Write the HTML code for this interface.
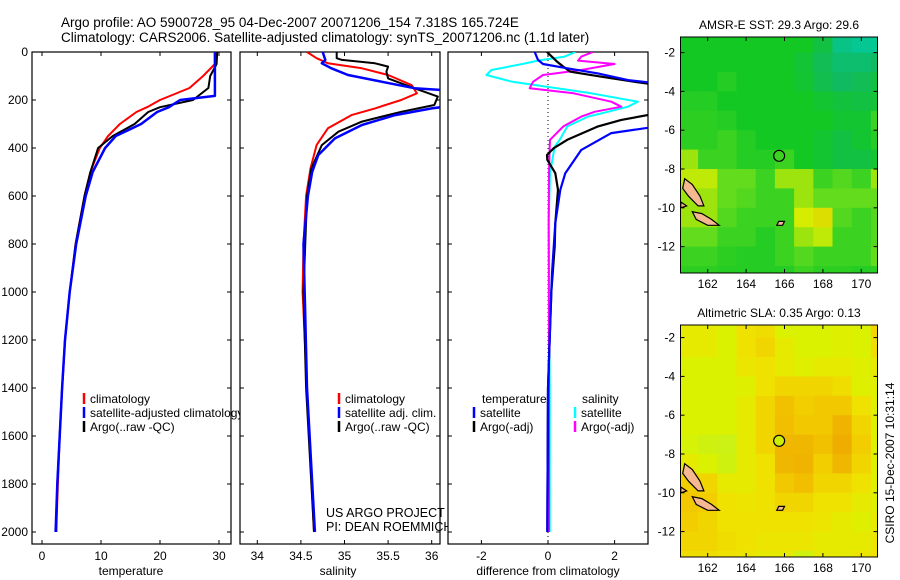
<!DOCTYPE html>
<html><head><meta charset="utf-8">
<style>
html,body{margin:0;padding:0;background:#fff;}
svg{display:block;font-family:"Liberation Sans",Arial,sans-serif;}
</style></head>
<body>
<svg id="chart" width="900" height="580" viewBox="0 0 900 580">
<defs>
<clipPath id="c1"><rect x="32" y="52" width="199" height="492"/></clipPath>
<clipPath id="c2"><rect x="240" y="52" width="200" height="492"/></clipPath>
<clipPath id="c3"><rect x="448" y="52" width="200" height="492"/></clipPath>
<clipPath id="m1"><rect x="681" y="37" width="197" height="236"/></clipPath>
<clipPath id="m2"><rect x="680" y="325" width="197" height="232"/></clipPath>
</defs>
<g id="root"></g>
</svg>
<script>
// ---------- data ----------
const tempDepth = [0,50,100,150,200,230,250,300,350,400,500,600,800,1000,1200,1400,1600,1800,2000];
const tempClim  = [29.6,29.3,27.3,25,20,17.8,16,13.2,11.2,9.8,8.2,7.2,5.7,4.7,3.9,3.4,3.0,2.7,2.4];
const tempSatDepth = [0,100,183,200,230,250,300,350,400,500,600,800,1000,1200,1400,1600,1800,2000];
const tempSat   = [29.3,29.3,29.3,23.4,21.5,19.5,16.8,12.5,10.7,8.6,7.4,5.8,4.7,3.9,3.4,3.0,2.6,2.3];
const tempArgo  = [29.7,29.6,28.5,28.2,25.6,20,18,15.7,12,9.5,8.2,7.2,5.7,4.7,3.9,3.4,3.0,2.6,2.4];

const salDepth = [0,26,47,68,96,138,172,200,235,263,318,388,485,600,800,1000,1400,2000];
const salClim  = [34.57,34.68,34.81,35.2,35.5,35.77,35.83,35.65,35.35,35.08,34.81,34.68,34.61,34.56,34.53,34.52,34.57,34.65];
const salArgoDepth = [0,26,33,47,61,82,110,151,186,221,249,290,332,388,485,600,1000,1400,2000];
const salArgo  = [34.91,34.91,34.97,35.35,35.5,35.48,35.5,35.8,36.07,36.03,35.65,35.2,34.93,34.74,34.62,34.57,34.53,34.56,34.65];
const salSatDepth = [0,33,47,68,96,124,151,163,221,235,263,304,360,429,499,600,800,1400,2000];
const salSat   = [34.75,34.78,34.74,34.85,35.04,35.43,35.8,36.3,36.3,36.0,35.58,35.2,34.89,34.7,34.63,34.58,34.53,34.57,34.66];

const dTSatDepth = [0,33,50,68,89,117,131,310,338,408,505,574,713,922,1400,2000];
const dTSat    = [-0.4,-0.3,-0.15,0.58,1.5,2.4,3.3,3.3,1.9,1.0,0.52,0.37,0.22,0.12,0.0,-0.02];
const dTArgoDepth = [0,40,61,82,103,124,138,255,283,310,366,401,429,449,505,574,713,810,1000,1400,2000];
const dTArgo   = [-0.03,0.27,0.46,0.67,1.6,2.6,3.3,3.3,2.2,1.5,0.58,0.17,-0.03,-0.02,0.22,0.3,0.22,0.2,0.1,0.0,-0.02];
const dSDepth  = [0,19,36,50,75,96,124,151,172,207,228,249,269,310,366,394,505,700,1400,2000];
const dSSat    = [0.83,0.5,-0.3,-0.77,-1.7,-1.85,-1.07,0.27,1.3,2.7,2.4,1.8,1.2,0.58,0.35,0.2,0.06,0.02,0.05,0.05];
const dSArgo   = [1.35,1.0,0.9,2.0,1.0,-0.15,-0.45,-0.55,0.77,1.9,2.2,1.4,1.0,0.46,0.06,0.05,0.03,0.02,0.03,0.03];

const depthTicks = [0,200,400,600,800,1000,1200,1400,1600,1800,2000];
const tempTicks = [0,10,20,30];
const salTicks = [34,34.5,35,35.5,36];
const salTickLabels = ["34","34.5","35","35.5","36"];
const diffTicks = [-2,0,2];
const latTicks = [-2,-4,-6,-8,-10,-12];
const lonTicks = [162,164,166,168,170];

// SST grid (rows: lat -1..-14, cols: lon 160.5..171.5), colour index 0 teal .. 5 orange
const sstGrid = [
 [2,2,2,2,2,2,2,1.5,0.5,0.3,0.3],
 [2,2,2,2,2,2,1.7,1.2,0.8,0.8,1],
 [2,2,2.2,2,2,2,1.8,1.3,1,1.2,1.5],
 [2.2,2.2,2,2,2,2,2,1.8,1.6,1.5,1.7],
 [2.3,2.3,2.2,2,2,2,2,2,1.8,1.8,2.5],
 [2.3,2.3,2.5,2.2,2,2,2,1.8,1.5,1.8,2.2],
 [3.5,2.5,2.5,2.2,2.2,2.5,2,1.8,1.5,1.5,1.8],
 [3.8,3.8,3,3,2.5,3.5,3.5,2.5,2.8,2.5,3.5],
 [3.5,3.5,3,2.8,2.5,2.5,3.5,3,3,3,3],
 [3.5,3.5,2.8,2.5,2.5,2.5,4,4.2,2.8,2.5,2.8],
 [3,3,2.5,2.5,2.2,2.5,3.5,3.8,2.5,2.5,2.8],
 [2.5,2.5,2.3,2.2,2.2,2.5,2.8,2.5,2.5,2.5,3],
 [2.3,2.3,2.2,2.2,2.2,2.2,2.5,2.3,2.3,2.2,2.3],
 [2.3,2.3,2.2,2.2,2.2,2.2,2.5,2.3,2.3,2.2,2.3]
];
// SLA grid, colour index 0 green-yellow .. 4 orange
const slaGrid = [
 [1.5,1.5,1,2,2.2,1,1,1,1.2,1,2.5],
 [1.5,1.5,1,2,2.5,1.5,1,1,1.2,1,2.2],
 [1,1,1,1.8,2,1.5,1.2,1.5,1.5,1.2,1.5],
 [1,1,1,1.2,2,2.5,2.5,2.5,2.2,1.2,1.2],
 [1,1,1,1.5,2.5,3.2,2.8,3,3,2,1.2],
 [1,1,1,1.5,2.5,3.3,3,3,3.6,2.5,1.2],
 [0.8,0.5,0.3,1.5,2.5,3.5,3.5,3.2,3.8,2.8,1.2],
 [1.5,1,0.5,1.5,2,3.5,3.6,2.8,3.5,2.5,1.2],
 [2.8,2.5,1.5,1.5,2,3,3.3,2.5,2.5,2,1.2],
 [3,2.8,2,1.8,2,2.5,2.5,2,2,1.5,1.2],
 [2.8,2.5,2,2,2,2,2,1.8,1.5,1.2,1.5],
 [2.5,2.5,2.2,2,1.8,1.8,1.8,1.5,1.5,1.5,1.8],
 [2.2,2.2,2,1.8,1.5,1.5,0.5,1.5,1.5,1.8,2],
 [2.2,2.2,2,1.8,1.5,1.5,0.5,1.5,1.5,1.8,2]
];
const argoLon = 165.72, argoLat = -7.32;

// ---------- helpers ----------
const NS="http://www.w3.org/2000/svg";
const root=document.getElementById('root');
function mk(tag,attrs,parent){const e=document.createElementNS(NS,tag);for(const k in attrs)e.setAttribute(k,attrs[k]);(parent||root).appendChild(e);return e;}
function txt(x,y,s,size,anchor,parent){const t=mk('text',{x:x,y:y,'font-size':size,'text-anchor':anchor||'start',fill:'#000'},parent);t.textContent=s;return t;}

const yD = d => 52 + d*0.24;
const xT = v => 42 + v*5.9;
const xS = v => 257.3 + (v-34)*87.2;
const xDf = v => 548 + v*33.3;

function panel(x0,x1,name){
  const g=mk('g',{});
  
  
  mk('rect',{x:x0,y:52,width:x1-x0,height:492,fill:'#fff',stroke:'#000','stroke-width':1.2},g);
  depthTicks.forEach(d=>{
    const y=yD(d);
    mk('line',{x1:x0,y1:y,x2:x0+4,y2:y,stroke:'#000'},g);
    mk('line',{x1:x1,y1:y,x2:x1-4,y2:y,stroke:'#000'},g);
  });
  return g;
}
function series(dep,vals,xf,color,clip,name,w){
  const pts=dep.map((d,i)=>xf(vals[i]).toFixed(1)+','+yD(d).toFixed(1)).join(' ');
  const p=mk('polyline',{points:pts,fill:'none',stroke:color,'stroke-width':w||2,'clip-path':'url(#'+clip+')','stroke-linejoin':'round'});
  
  
}
function xticks(g,vals,labels,xf){
  vals.forEach((v,i)=>{
    const x=xf(v);
    mk('line',{x1:x,y1:544,x2:x,y2:540,stroke:'#000'},g);
    mk('line',{x1:x,y1:52,x2:x,y2:56,stroke:'#000'},g);
    const t=txt(x,560,labels[i],12,'middle',g);
    
    
  });
}
function legend(g,x,y,color,label){
  mk('line',{x1:x,y1:y-10,x2:x,y2:y+1,stroke:color,'stroke-width':2.5},g);
  const t=txt(x+6,y,label,12,'start',g);
  
  
}

// ---------- titles ----------
let t=txt(61,27,'Argo profile: AO 5900728_95 04-Dec-2007 20071206_154 7.318S 165.724E',13.5);


t=txt(61,42,'Climatology: CARS2006. Satellite-adjusted climatology: synTS_20071206.nc (1.1d later)',13.5);



// ---------- panel 1: temperature ----------
const g1=panel(32,231,'temperature-panel');
depthTicks.forEach(d=>{
  const l=txt(28,yD(d)+4,String(d),12,'end',g1);
  
  
});
xticks(g1,tempTicks,tempTicks.map(String),xT);
series(tempDepth,tempClim,xT,'#ff0000','c1','temp-climatology-line');
series(tempDepth,tempArgo,xT,'#000000','c1','temp-argo-line');
series(tempSatDepth,tempSat,xT,'#0000ff','c1','temp-satellite-line',2.5);
t=txt(131,575,'temperature',12,'middle',g1);


legend(g1,84,403,'#ff0000','climatology');
legend(g1,84,417,'#0000ff','satellite-adjusted climatology');
legend(g1,84,431,'#000000','Argo(..raw -QC)');

// ---------- panel 2: salinity ----------
const g2=panel(240,440,'salinity-panel');
xticks(g2,salTicks,salTickLabels,xS);
series(salDepth,salClim,xS,'#ff0000','c2','sal-climatology-line');
series(salArgoDepth,salArgo,xS,'#000000','c2','sal-argo-line');
series(salSatDepth,salSat,xS,'#0000ff','c2','sal-satellite-line',2.5);
t=txt(338,575,'salinity',12,'middle',g2);


legend(g2,339,403,'#ff0000','climatology');
legend(g2,339,417,'#0000ff','satellite adj. clim.');
legend(g2,339,431,'#000000','Argo(..raw -QC)');
t=txt(326,517,'US ARGO PROJECT',12.5,'start',g2);


t=txt(326,531,'PI: DEAN ROEMMICH',12.5,'start',g2);



// ---------- panel 3: difference ----------
const g3=panel(448,648,'difference-panel');
xticks(g3,diffTicks,diffTicks.map(String),xDf);
mk('line',{x1:xDf(0),y1:52,x2:xDf(0),y2:544,stroke:'#000','stroke-dasharray':'1,3','stroke-width':1},g3);
series(dSDepth,dSSat,xDf,'#00ffff','c3','sal-diff-satellite-line');
series(dSDepth,dSArgo,xDf,'#ff00ff','c3','sal-diff-argo-line');
series(dTArgoDepth,dTArgo,xDf,'#000000','c3','temp-diff-argo-line',2.2);
series(dTSatDepth,dTSat,xDf,'#0000ff','c3','temp-diff-satellite-line',2.2);
t=txt(548,575,'difference from climatology',12,'middle',g3);


t=txt(482,403,'temperature',12,'start',g3);


t=txt(582,403,'salinity',12,'start',g3);


legend(g3,474,417,'#0000ff','satellite');
legend(g3,474,431,'#000000','Argo(-adj)');
legend(g3,575,417,'#00ffff','satellite');
legend(g3,575,431,'#ff00ff','Argo(-adj)');

// ---------- maps ----------
function lerpColor(stops,v){
  v=Math.max(0,Math.min(stops.length-1,v));
  const i=Math.min(stops.length-2,Math.floor(v)),f=v-i;
  const a=stops[i],b=stops[i+1];
  return 'rgb('+a.map((c,k)=>Math.round(c+(b[k]-c)*f)).join(',')+')';
}
const sstStops=[[0,204,170],[16,186,96],[20,200,36],[100,220,30],[214,236,0],[240,164,0]];
const slaStops=[[196,240,30],[218,242,0],[240,226,0],[242,200,0],[238,166,0]];
const islands=[
 [[160.8,-8.5],[161.2,-8.8],[161.6,-9.4],[161.8,-9.9],[161.5,-9.9],[161.0,-9.4],[160.7,-9.0]],
 [[161.2,-10.2],[161.7,-10.3],[162.2,-10.6],[162.6,-10.9],[162.0,-10.9],[161.4,-10.6]],
 [[160.6,-9.7],[160.9,-9.9],[160.6,-10.0]],
 [[165.7,-10.7],[166.0,-10.7],[165.9,-10.9],[165.6,-10.9]]
];
function mapPanel(top,bottom,lat8,grid,stops,clip,title,name,dotFill){
  const g=mk('g',{});
  
  
  const left=680.5,right=877.5;
  const xL=lon=>707.7+(lon-162)*19.2;
  const yL=lat=>lat8+(-8-lat)*19.4;
  const cells=mk('g',{'clip-path':'url(#'+clip+')'},g);
  grid.forEach((row,r)=>row.forEach((v,c)=>{
    const lon0=160.5+c, lat0=-1-r;
    const cell=mk('rect',{x:xL(lon0).toFixed(1),y:yL(lat0).toFixed(1),width:19.8,height:20,fill:lerpColor(stops,v)},cells);
    
    
  }));
  islands.forEach(p=>{
    const pg=mk('polygon',{points:p.map(q=>xL(q[0]).toFixed(1)+','+yL(q[1]).toFixed(1)).join(' '),fill:'#f5b890',stroke:'#000','stroke-width':1.2},cells);
    
    
  });
  mk('rect',{x:left,y:top,width:right-left,height:bottom-top,fill:'none',stroke:'#000','stroke-width':1},g);
  latTicks.forEach(l=>{
    const y=yL(l);
    mk('line',{x1:left,y1:y,x2:left+4,y2:y,stroke:'#000'},g);
    mk('line',{x1:right,y1:y,x2:right-4,y2:y,stroke:'#000'},g);
    const lt=txt(675,y+4,String(l),12,'end',g);
    
    
  });
  lonTicks.forEach(l=>{
    const x=xL(l);
    mk('line',{x1:x,y1:bottom,x2:x,y2:bottom-4,stroke:'#000'},g);
    mk('line',{x1:x,y1:top,x2:x,y2:top+4,stroke:'#000'},g);
    const lt=txt(x,bottom+15,String(l),12,'middle',g);
    
    
  });
  const c=mk('circle',{cx:xL(argoLon),cy:yL(argoLat),r:5.5,fill:dotFill,stroke:'#000','stroke-width':1.2},g);
  
  
  const tt=txt((left+right)/2,top-8,title,12,'middle',g);
  
  
}
mapPanel(37,273,169,sstGrid,sstStops,'m1','AMSR-E SST: 29.3 Argo: 29.6','sst-map','none');
mapPanel(325,557,454,slaGrid,slaStops,'m2','Altimetric SLA: 0.35 Argo: 0.13','sla-map','#ccee00');

t=txt(0,0,'CSIRO 15-Dec-2007 10:31:14',12,'middle');
t.setAttribute('transform','translate(894,463) rotate(-90)');


</script>
</body></html>
